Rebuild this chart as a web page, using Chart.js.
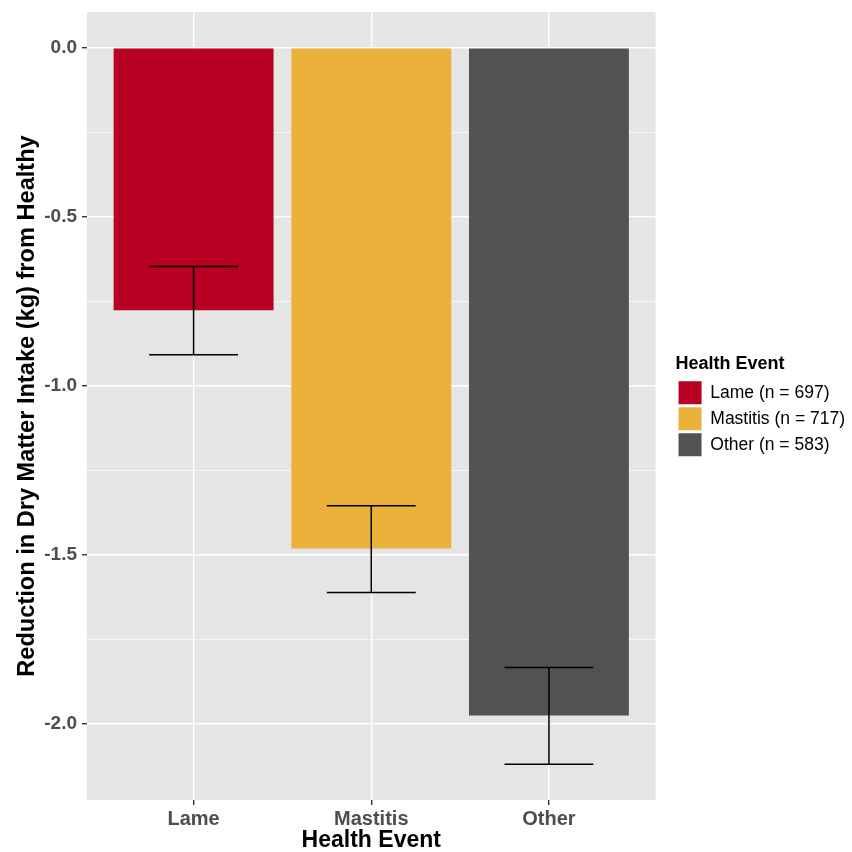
<!DOCTYPE html>
<html>
<head>
<meta charset="utf-8">
<script src="https://cdn.jsdelivr.net/npm/chart.js@4.4.1/dist/chart.umd.min.js"></script>
<style>
  html, body { margin: 0; padding: 0; background: #fff; }
  #wrap { width: 852px; height: 852px; }
</style>
</head>
<body>
<div id="wrap"><canvas id="chart" width="852" height="852"></canvas></div>
<script>
var categories = ["Lame", "Mastitis", "Other"];
var legendLabels = ["Lame (n = 697)", "Mastitis (n = 717)", "Other (n = 583)"];
var meanValues = [-0.777, -1.482, -1.976];
var lowerValues = [-0.908, -1.612, -2.120];
var upperValues = [-0.647, -1.355, -1.834];
var barColors = ["#B80022", "#EBB13B", "#525252"];
var yMajorTicks = [0, -0.5, -1, -1.5, -2];
var yMinorTicks = [-0.25, -0.75, -1.25, -1.75];

var fontFamily = "'Liberation Sans', Arial, sans-serif";

// grey panel behind the plot
var panelBackground = {
    id: "panelBackground",
    beforeDraw: function (chart) {
        var a = chart.chartArea;
        var ctx = chart.ctx;
        ctx.save();
        ctx.fillStyle = "#E5E5E5";
        ctx.fillRect(a.left, a.top, a.right - a.left, a.bottom - a.top);
        ctx.restore();
    }
};

// error bars drawn through the scales
var errorBars = {
    id: "errorBars",
    afterDatasetsDraw: function (chart) {
        var xs = chart.scales.x;
        var ys = chart.scales.y;
        var ctx = chart.ctx;
        ctx.save();
        ctx.strokeStyle = "#000";
        ctx.lineWidth = 1.5;
        for (var i = 0; i < categories.length; i++) {
            var xc = xs.getPixelForValue(i);
            var xl = xs.getPixelForValue(i - 0.25);
            var xr = xs.getPixelForValue(i + 0.25);
            var yl = ys.getPixelForValue(lowerValues[i]);
            var yu = ys.getPixelForValue(upperValues[i]);
            ctx.beginPath();
            ctx.moveTo(xc, yu); ctx.lineTo(xc, yl);
            ctx.moveTo(xl, yu); ctx.lineTo(xr, yu);
            ctx.moveTo(xl, yl); ctx.lineTo(xr, yl);
            ctx.stroke();
        }
        ctx.restore();
    }
};

function isMajor(v) {
    return yMajorTicks.some(function (m) { return Math.abs(m - v) < 1e-9; });
}

new Chart("chart", {
    type: "bar",
    data: {
        datasets: [{
            label: "Health Event",
            data: categories.map(function (c, i) { return { x: i, y: meanValues[i] }; }),
            backgroundColor: barColors,
            borderWidth: 0,
            barPercentage: 0.9,
            categoryPercentage: 1.0
        }]
    },
    options: {
        responsive: false,
        animation: false,
        devicePixelRatio: 1,
        layout: { padding: { left: 0, top: 12, right: -3, bottom: 0 } },
        scales: {
            x: {
                type: "linear",
                min: -0.6,
                max: 2.6,
                offset: false,
                afterBuildTicks: function (s) {
                    s.ticks = categories.map(function (c, i) { return { value: i }; });
                },
                afterFit: function (s) {
                    s.height = 52;
                    s.paddingLeft = 0;
                    s.paddingRight = 0;
                },
                grid: { offset: false, color: "#FFFFFF", lineWidth: 1.4, tickColor: "#333333", tickLength: 5 },
                border: { display: false },
                ticks: {
                    padding: 2,
                    color: "#4D4D4D",
                    font: { family: fontFamily, size: 20, weight: "bold" },
                    callback: function (v) { return categories[v]; }
                },
                title: {
                    display: true,
                    text: "Health Event",
                    color: "#000",
                    font: { family: fontFamily, size: 23, weight: "bold", lineHeight: 1 },
                    padding: 0
                }
            },
            y: {
                min: -2.226,
                max: 0.106,
                afterBuildTicks: function (s) {
                    s.ticks = yMajorTicks.concat(yMinorTicks).sort(function (a, b) { return a - b; })
                        .map(function (v) { return { value: v }; });
                },
                afterFit: function (s) {
                    s.width = 87;
                    s.paddingTop = 0;
                    s.paddingBottom = 0;
                },
                grid: {
                    color: "#FFFFFF",
                    lineWidth: function (c) { return c.tick && isMajor(c.tick.value) ? 1.4 : 0.7; },
                    tickColor: function (c) { return c.tick && isMajor(c.tick.value) ? "#333333" : "rgba(0,0,0,0)"; },
                    tickLength: 5
                },
                border: { display: false },
                ticks: {
                    padding: 5,
                    color: "#4D4D4D",
                    font: { family: fontFamily, size: 19, weight: "bold" },
                    callback: function (v) { return isMajor(v) ? v.toFixed(1) : ""; }
                },
                title: {
                    display: true,
                    text: "Reduction in Dry Matter Intake (kg) from Healthy",
                    color: "#000",
                    font: { family: fontFamily, size: 23.6, weight: "bold" },
                    padding: { top: 13, bottom: 0 }
                }
            },
            // empty gap between the panel and the legend
            pad: {
                type: "linear",
                position: "right",
                display: false,
                afterFit: function (s) { s.width = 20; s.paddingTop = 0; s.paddingBottom = 0; }
            }
        },
        plugins: {
            tooltip: { enabled: false },
            legend: {
                position: "right",
                fullSize: false,
                onClick: null,
                title: {
                    display: true,
                    text: "Health Event",
                    position: "start",
                    color: "#000",
                    padding: { top: 2, bottom: 2 },
                    font: { family: fontFamily, size: 18, weight: "bold" }
                },
                labels: {
                    boxWidth: 23,
                    boxHeight: 23,
                    padding: 3,
                    color: "#000",
                    font: { family: fontFamily, size: 17.5 },
                    generateLabels: function () {
                        return legendLabels.map(function (t, i) {
                            return { text: t, fillStyle: barColors[i], strokeStyle: barColors[i], lineWidth: 0, hidden: false, index: i, datasetIndex: 0 };
                        });
                    }
                }
            }
        }
    },
    plugins: [panelBackground, errorBars]
});
</script>
</body>
</html>
